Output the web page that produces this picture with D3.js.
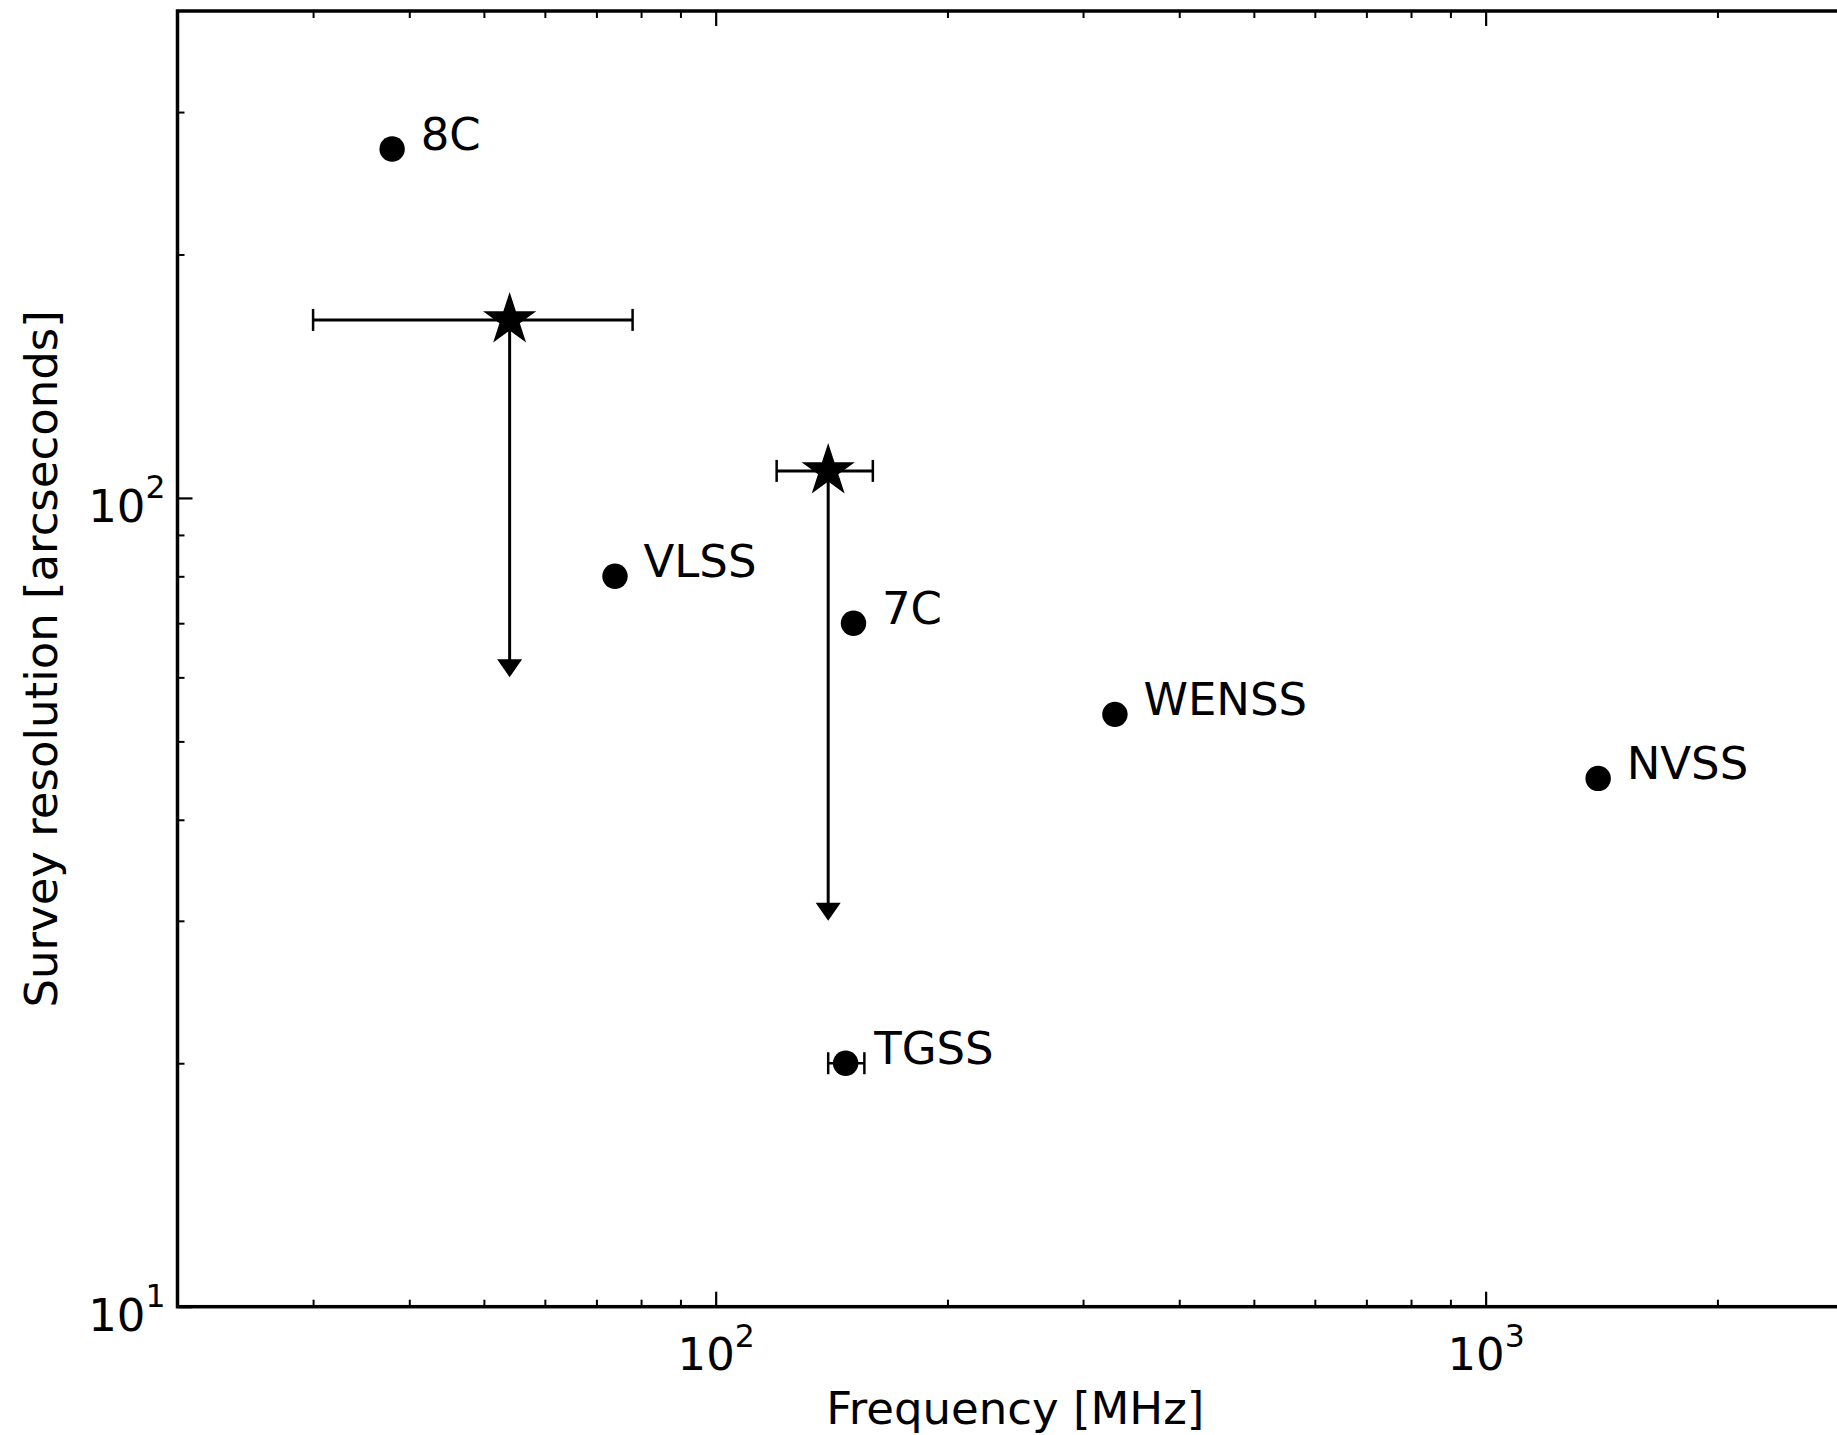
<!DOCTYPE html>
<html><head><meta charset="utf-8">
<script src="https://cdn.jsdelivr.net/npm/d3@7"></script>
<style>
body{margin:0;background:#fff;}
svg{display:block;background:#fff;}
text{font-family:"DejaVu Sans";fill:#000;}
</style>
</head><body>
<svg id="chart" width="1837" height="1435"></svg>
<script>
// ---- data ----
const surveys = ["8C", "VLSS", "7C", "WENSS", "NVSS", "TGSS"];
const surveyFreq = [38, 74, 151, 330, 1400, 147.5];        // MHz
const surveyRes = [270, 80, 70, 54, 45, 20];               // arcsec
const surveyFreqLo = [null, null, null, null, null, 140];
const surveyFreqHi = [null, null, null, null, null, 156];

const limitFreq = [54, 140];
const limitFreqLo = [30, 120];
const limitFreqHi = [78, 160];
const limitRes = [166, 108];
const limitResTo = [60, 30];

const xMajorTicks = [100, 1000];
const xMinorTicks = [30, 40, 50, 60, 70, 80, 90, 200, 300, 400, 500, 600, 700, 800, 900, 2000];
const yMajorTicks = [10, 100];
const yMinorTicks = [20, 30, 40, 50, 60, 70, 80, 90, 200, 300];
const xDomain = [20, 3000];
const yDomain = [10, 400];

// ---- layout ----
const L = 177.5, R = 1853, T = 11, B = 1306.7;
const FS = 45;
const svg = d3.select("#chart");
const x = d3.scaleLog().domain(xDomain).range([L, R]);
const y = d3.scaleLog().domain(yDomain).range([B, T]);

function styleAxis(g, w) {
  g.select(".domain").remove();
  g.selectAll(".tick line").attr("stroke", "#000").attr("stroke-width", w);
}
function supLabel(textSel, exp) {
  textSel.text(null);
  textSel.append("tspan").attr("font-size", FS).text("10");
  textSel.append("tspan").attr("font-size", FS * 0.7).attr("dy", -23.5).text(exp);
}
const expOf = v => String(Math.round(Math.log10(v)));

// bottom
svg.append("g").attr("transform", `translate(0,${B})`)
  .call(d3.axisBottom(x).tickValues(xMinorTicks).tickSize(-7).tickFormat(""))
  .call(g => styleAxis(g, 2));
const bx = svg.append("g").attr("transform", `translate(0,${B})`)
  .call(d3.axisBottom(x).tickValues(xMajorTicks).tickSize(-15).tickFormat(""))
  .call(g => styleAxis(g, 2.2));
bx.selectAll(".tick text").each(function(d){
  const t = d3.select(this).attr("y", 63.5).attr("dy", null).attr("text-anchor", "middle")
    .attr("fill", "#000");
  supLabel(t, expOf(d));
});
// top
svg.append("g").attr("transform", `translate(0,${T})`)
  .call(d3.axisTop(x).tickValues(xMinorTicks).tickSize(-7).tickFormat(""))
  .call(g => styleAxis(g, 2));
svg.append("g").attr("transform", `translate(0,${T})`)
  .call(d3.axisTop(x).tickValues(xMajorTicks).tickSize(-15).tickFormat(""))
  .call(g => { styleAxis(g, 2.2); g.selectAll("text").remove(); });
// left
svg.append("g").attr("transform", `translate(${L},0)`)
  .call(d3.axisLeft(y).tickValues(yMinorTicks).tickSize(-7).tickFormat(""))
  .call(g => styleAxis(g, 2));
const ly = svg.append("g").attr("transform", `translate(${L},0)`)
  .call(d3.axisLeft(y).tickValues(yMajorTicks).tickSize(-15).tickFormat(""))
  .call(g => styleAxis(g, 2.2));
ly.selectAll(".tick text").each(function(d){
  const t = d3.select(this).attr("x", -12).attr("y", 23.5).attr("dy", null)
    .attr("text-anchor", "end").attr("fill", "#000");
  supLabel(t, expOf(d));
});
// right
svg.append("g").attr("transform", `translate(${R},0)`)
  .call(d3.axisRight(y).tickValues(yMinorTicks).tickSize(-7).tickFormat(""))
  .call(g => styleAxis(g, 2));
svg.append("g").attr("transform", `translate(${R},0)`)
  .call(d3.axisRight(y).tickValues(yMajorTicks).tickSize(-15).tickFormat(""))
  .call(g => { styleAxis(g, 2.2); g.selectAll("text").remove(); });

// frame
svg.append("rect").attr("x", L).attr("y", T).attr("width", R - L).attr("height", B - T)
  .attr("fill", "none").attr("stroke", "#000").attr("stroke-width", 3.5);

// axis titles
svg.append("text").attr("x", (L + R) / 2).attr("y", 1423.5).attr("text-anchor", "middle")
  .attr("font-size", FS).text("Frequency [MHz]");
svg.append("text").attr("transform", `translate(57,${(T + B) / 2}) rotate(-90)`)
  .attr("text-anchor", "middle").attr("font-size", FS).text("Survey resolution [arcseconds]");

// ---- limits (stars with horizontal errorbars and down arrows) ----
const limits = limitFreq.map((f, i) => ({f, lo: limitFreqLo[i], hi: limitFreqHi[i], r: limitRes[i], to: limitResTo[i]}));
const lg = svg.append("g");
const headLen = 18, headW = 25;
limits.forEach(d => {
  const cx = x(d.f), cy = y(d.r), ty = y(d.to);
  lg.append("line").attr("x1", x(d.lo)).attr("x2", x(d.hi)).attr("y1", cy).attr("y2", cy)
    .attr("stroke", "#000").attr("stroke-width", 3);
  [d.lo, d.hi].forEach(v => lg.append("line").attr("x1", x(v)).attr("x2", x(v))
    .attr("y1", cy - 11).attr("y2", cy + 11).attr("stroke", "#000").attr("stroke-width", 2.5));
  lg.append("line").attr("x1", cx).attr("x2", cx).attr("y1", cy).attr("y2", ty - headLen + 1)
    .attr("stroke", "#000").attr("stroke-width", 3);
  lg.append("path").attr("d", `M${cx - headW / 2},${ty - headLen}L${cx + headW / 2},${ty - headLen}L${cx},${ty}Z`)
    .attr("fill", "#000");
  lg.append("path").attr("d", d3.symbol(d3.symbolStar, 28 * 28 / 0.8908130915292852)())
    .attr("transform", `translate(${cx},${cy})`).attr("fill", "#000");
});

// ---- surveys ----
const sg = svg.append("g");
surveys.forEach((name, i) => {
  const cx = x(surveyFreq[i]), cy = y(surveyRes[i]);
  if (surveyFreqLo[i] != null) {
    sg.append("line").attr("x1", x(surveyFreqLo[i])).attr("x2", x(surveyFreqHi[i]))
      .attr("y1", cy).attr("y2", cy).attr("stroke", "#000").attr("stroke-width", 2.5);
    [surveyFreqLo[i], surveyFreqHi[i]].forEach(v => sg.append("line").attr("x1", x(v)).attr("x2", x(v))
      .attr("y1", cy - 11).attr("y2", cy + 11).attr("stroke", "#000").attr("stroke-width", 2.5));
  }
  sg.append("circle").attr("cx", cx).attr("cy", cy).attr("r", 12.7).attr("fill", "#000");
  sg.append("text").attr("x", cx + 28.5).attr("y", cy + 1).attr("font-size", FS).text(name);
});
</script>
</body></html>
